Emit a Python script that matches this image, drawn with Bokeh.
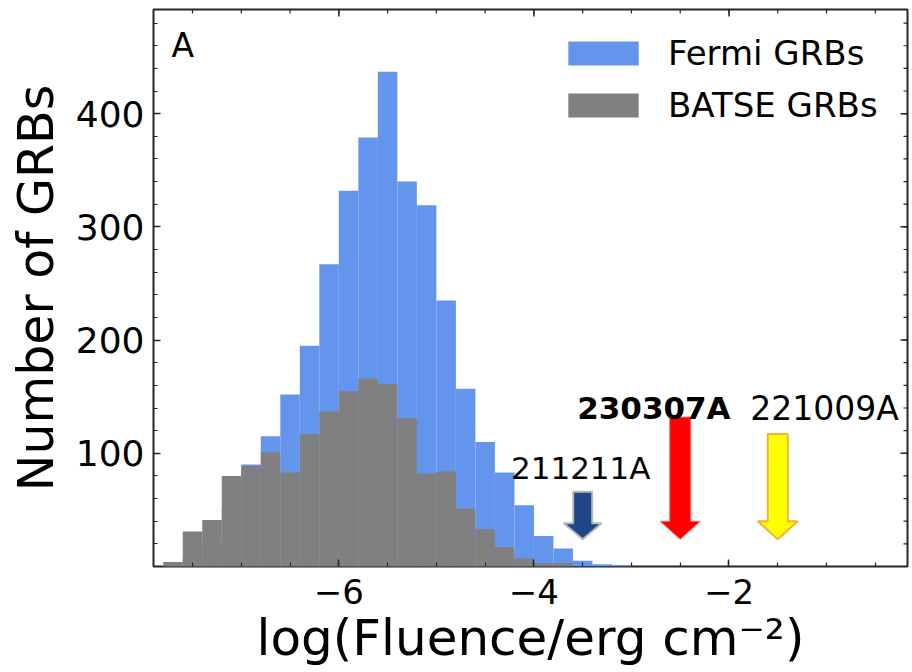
import math
from bokeh.plotting import figure
from bokeh.models import Range1d, FixedTicker, Legend, LegendItem, ColumnDataSource, Label
from bokeh.core.properties import value
from bokeh.embed import file_html
from bokeh.resources import INLINE

# ---- data ----
bin_left = [-7.8, -7.6, -7.4, -7.2, -7.0, -6.8, -6.6, -6.4, -6.2, -6.0, -5.8, -5.6,
            -5.4, -5.2, -5.0, -4.8, -4.6, -4.4, -4.2, -4.0, -3.8, -3.6, -3.4, -3.2]
bin_width = 0.2
fermi_counts = [1, 8, 22, 52, 90, 115, 152, 195, 267, 332, 379, 437,
                340, 319, 235, 157, 110, 83, 54, 27, 16, 5, 2, 1]
batse_counts = [4, 31, 41, 80, 89, 101, 83, 117, 137, 155, 166, 161,
                131, 82, 84, 51, 33, 17, 7, 3, 3, 0, 0, 0]

grb_names = ["211211A", "230307A", "221009A"]
grb_logfluence = [-3.5, -2.5, -1.5]
arrow_top = [66, 132, 117]
arrow_tip = [24, 24, 24]
label_x = [-3.52, -2.77, -1.02]
label_y = [87, 140, 140]

x_major = [-6, -4, -2]
x_minor = [-7.5, -7.0, -6.5, -6.0, -5.5, -5.0, -4.5, -4.0, -3.5, -3.0, -2.5, -2.0, -1.5, -1.0, -0.5]
y_major = [100, 200, 300, 400]
y_minor = list(range(20, 500, 20))

X_START, X_END = -7.9, -0.17
Y_START, Y_END = 0, 492

FONT = "DejaVu Sans"
BLUE = "#6495ed"
GRAY = "#808080"
INK = "#262626"

p = figure(width=912, height=672, output_backend="svg", toolbar_location=None,
           x_range=Range1d(X_START, X_END), y_range=Range1d(Y_START, Y_END),
           min_border_left=153, min_border_right=5, min_border_top=9, min_border_bottom=106)
p.grid.visible = False
p.outline_line_color = INK
p.outline_line_width = 2

# histograms
right = [l + bin_width for l in bin_left]
src = ColumnDataSource(dict(left=bin_left, right=right, fermi=fermi_counts, batse=batse_counts))
r_f = p.quad(left="left", right="right", bottom=0, top="fermi", source=src,
             fill_color=BLUE, line_color=None)
r_b = p.quad(left="left", right="right", bottom=0, top="batse", source=src,
             fill_color=GRAY, line_color=None)

# arrows (drawn from data positions)
px_per_x = 97.5
px_per_y = 1.13
styles = [
    dict(fill="#1f4788", line="#b8b8b8", lw=2, sw=9.5, hw=19, hl=16),
    dict(fill="#ff0000", line="#ff7070", lw=1, sw=10.5, hw=20, hl=18),
    dict(fill="#ffff00", line="#f5b335", lw=2, sw=10, hw=20, hl=18),
]
xs, ys, fills, lines, lws = [], [], [], [], []
for xc, top, tip, st in zip(grb_logfluence, arrow_top, arrow_tip, styles):
    sw = st["sw"] / px_per_x
    hw = st["hw"] / px_per_x
    base = tip + st["hl"] / px_per_y
    xs.append([xc - sw, xc + sw, xc + sw, xc + hw, xc, xc - hw, xc - sw])
    ys.append([top, top, base, base, tip, base, base])
    fills.append(st["fill"]); lines.append(st["line"]); lws.append(st["lw"])
p.patches(xs=xs, ys=ys, fill_color=fills, line_color=lines, line_width=lws)

# arrow labels
p.text(x=[label_x[0]], y=[label_y[0]], text=[grb_names[0]], text_font=value(FONT),
       text_font_size="31px", text_align="center", text_baseline="alphabetic", text_color="black")
p.text(x=[label_x[1]], y=[label_y[1]], text=[grb_names[1]], text_font=value(FONT),
       text_font_size="31px", text_font_style="bold", text_align="center",
       text_baseline="alphabetic", text_color="black")
p.text(x=[label_x[2]], y=[label_y[2]], text=[grb_names[2]], text_font=value(FONT),
       text_font_size="33px", text_align="center", text_baseline="alphabetic", text_color="black")

# panel letter
p.add_layout(Label(x=18, y=460, x_units="screen", y_units="data", text="A",
                   text_font=FONT, text_font_size="33px", text_baseline="alphabetic",
                   text_color="black"))

# axes
def style_axis(ax, ticks, minor):
    ax.ticker = FixedTicker(ticks=ticks, minor_ticks=minor)
    ax.axis_line_color = None
    ax.major_tick_in = 7
    ax.major_tick_out = 0
    ax.minor_tick_in = 4
    ax.minor_tick_out = 0
    ax.major_tick_line_color = INK
    ax.minor_tick_line_color = INK
    ax.major_tick_line_width = 1.5
    ax.minor_tick_line_width = 1.2
    ax.major_label_text_font = FONT
    ax.major_label_text_color = "black"
    ax.axis_label_text_font = FONT
    ax.axis_label_text_color = "black"
    ax.axis_label_text_font_style = "normal"

xa = p.xaxis[0]
ya = p.yaxis[0]
style_axis(xa, x_major, x_minor)
style_axis(ya, y_major, y_minor)
xa.axis_label = "log(Fluence/erg cm\u207b\u00b2)"
xa.axis_label_text_font_size = "50px"
xa.major_label_text_font_size = "34px"
xa.major_label_standoff = 12
xa.axis_label_standoff = 2
ya.axis_label = "Number of GRBs"
ya.axis_label_text_font_size = "49px"
ya.major_label_text_font_size = "36px"
ya.major_label_standoff = 9
ya.axis_label_standoff = 8

# mirrored inward ticks on top and right edges
p.ray(x=x_major, y=[Y_END] * len(x_major), length=7, length_units="screen",
      angle=-math.pi / 2, line_color=INK, line_width=1.5)
p.ray(x=x_minor, y=[Y_END] * len(x_minor), length=4, length_units="screen",
      angle=-math.pi / 2, line_color=INK, line_width=1.2)
p.ray(x=[X_END] * len(y_major), y=y_major, length=7, length_units="screen",
      angle=math.pi, line_color=INK, line_width=1.5)
p.ray(x=[X_END] * len(y_minor), y=y_minor, length=4, length_units="screen",
      angle=math.pi, line_color=INK, line_width=1.2)

# legend
legend = Legend(items=[LegendItem(label="Fermi GRBs", renderers=[r_f]),
                       LegendItem(label="BATSE GRBs", renderers=[r_b])],
                location=(406, 441), glyph_width=88, glyph_height=30,
                label_text_font=FONT, label_text_font_size="34px", label_text_color="black",
                label_standoff=21, spacing=12, padding=0, margin=0, border_line_color=None,
                background_fill_alpha=0)
p.add_layout(legend)

open("out.html", "w").write(file_html(p, INLINE))
